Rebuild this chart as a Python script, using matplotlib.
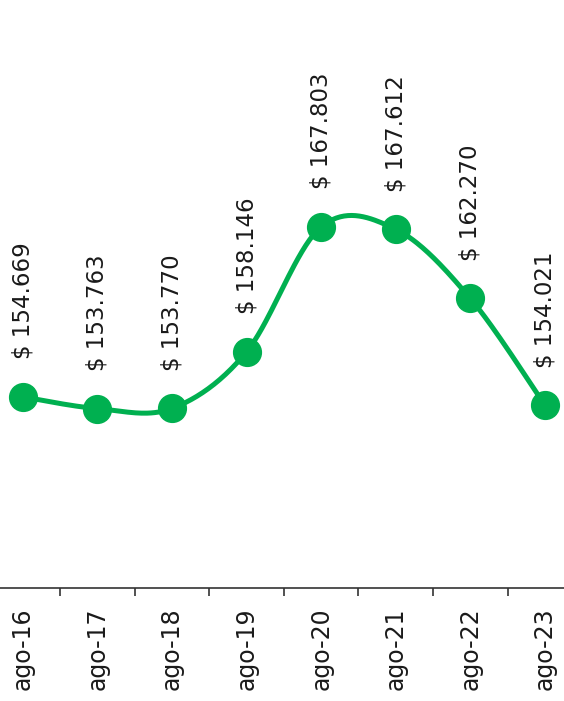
import numpy as np
import matplotlib
matplotlib.use("Agg")
import matplotlib.pyplot as plt

# datos
meses = ['ago-16', 'ago-17', 'ago-18', 'ago-19', 'ago-20', 'ago-21', 'ago-22', 'ago-23']
valores = [154.669, 153.763, 153.770, 158.146, 167.803, 167.612, 162.270, 154.021]
etiquetas = ['$ 154.669', '$ 153.763', '$ 153.770', '$ 158.146',
             '$ 167.803', '$ 167.612', '$ 162.270', '$ 154.021']

verde = '#00B050'
texto = '#1a1a1a'

plt.rcParams['font.family'] = ['DejaVu Sans']


def suavizar(x, y, n=40):
    # curva suavizada tipo Catmull-Rom (como la linea suavizada de Excel)
    x = np.asarray(x, float)
    y = np.asarray(y, float)
    px = np.concatenate([[x[0]], x, [x[-1]]])
    py = np.concatenate([[y[0]], y, [y[-1]]])
    xs, ys = [], []
    t = np.linspace(0, 1, n)
    for i in range(1, len(px) - 2):
        p0, p1, p2, p3 = (np.array([px[j], py[j]]) for j in (i - 1, i, i + 1, i + 2))
        c1 = p1 + (p2 - p0) / 6
        c2 = p2 - (p3 - p1) / 6
        b = ((1 - t) ** 3)[:, None] * p1 + (3 * (1 - t) ** 2 * t)[:, None] * c1 \
            + (3 * (1 - t) * t ** 2)[:, None] * c2 + (t ** 3)[:, None] * p2
        xs.extend(b[:, 0])
        ys.extend(b[:, 1])
    return np.array(xs), np.array(ys)


fig = plt.figure(figsize=(5.64, 7.01), dpi=100)
ax = fig.add_axes([-0.0259, 0.1612, 1.0583, 0.8388])

x = np.arange(len(meses))
sx, sy = suavizar(x, valores)
ax.plot(sx, sy, color=verde, lw=3.6, solid_capstyle='round', zorder=2)
ax.plot(x, valores, 'o', color=verde, ms=20, zorder=3)

for xi, v, lab in zip(x, valores, etiquetas):
    ax.annotate(lab, (xi, v), xytext=(0, 27), textcoords='offset points',
                rotation=90, ha='center', va='bottom', fontsize=16.5, color=texto)

ax.set_xlim(-0.5, len(meses) - 0.5)
ax.set_ylim(139.9, 185.33)

for s in ['left', 'right', 'top']:
    ax.spines[s].set_visible(False)
ax.spines['bottom'].set_color('#333333')
ax.spines['bottom'].set_linewidth(1.2)

ax.set_yticks([])
ax.set_xticks(x)
ax.set_xticklabels(meses, rotation=90, fontsize=17, color=texto)
ax.set_xticks(np.arange(0.5, len(meses) - 0.5), minor=True)
ax.tick_params(axis='x', which='major', length=0, pad=14)
ax.tick_params(axis='x', which='minor', length=6, width=1.2, color='#333333')

fig.savefig('out.png', dpi=100)
